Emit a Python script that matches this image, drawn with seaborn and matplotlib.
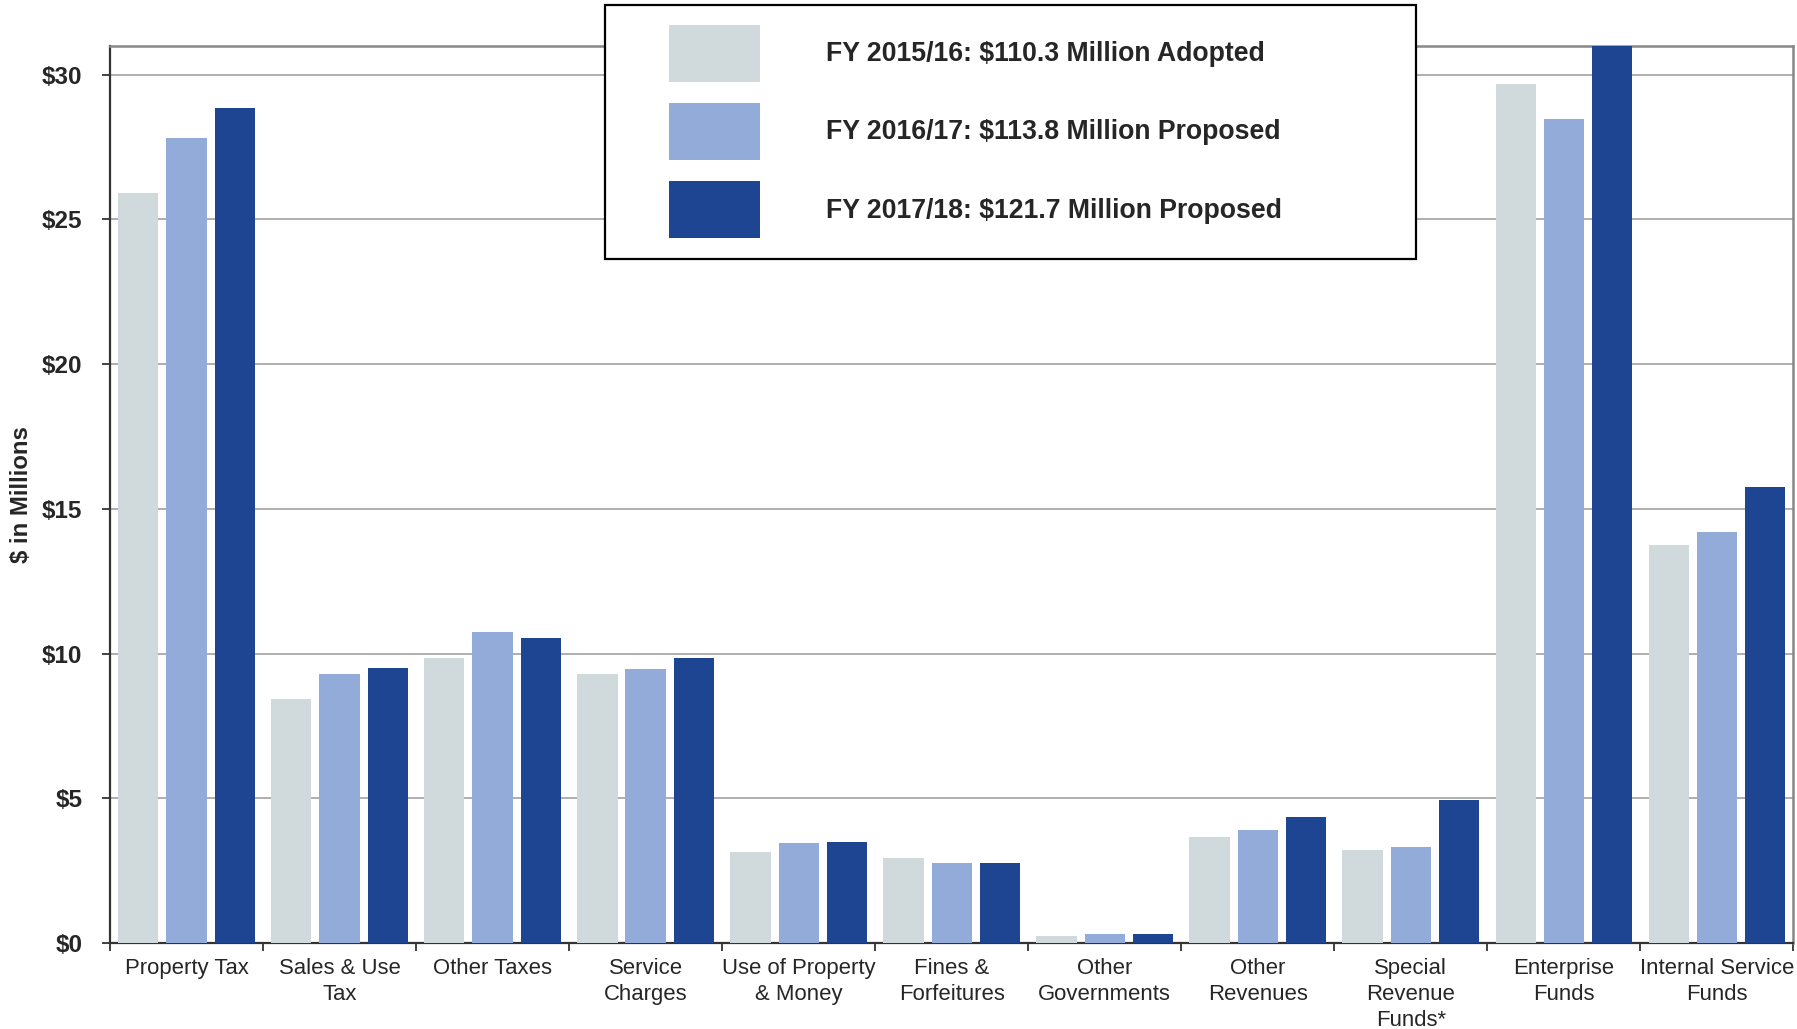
import numpy as np
import pandas as pd
import matplotlib
matplotlib.use("Agg")
import matplotlib.pyplot as plt
from matplotlib.patches import Patch, Rectangle
import seaborn as sns

categories = [
    "Property Tax", "Sales & Use\nTax", "Other Taxes", "Service\nCharges",
    "Use of Property\n& Money", "Fines &\nForfeitures", "Other\nGovernments",
    "Other\nRevenues", "Special\nRevenue\nFunds*", "Enterprise\nFunds",
    "Internal Service\nFunds",
]
years = [
    "FY 2015/16: $110.3 Million Adopted",
    "FY 2016/17: $113.8 Million Proposed",
    "FY 2017/18: $121.7 Million Proposed",
]
fy1516 = [25.93, 8.43, 9.85, 9.31, 3.15, 2.92, 0.25, 3.67, 3.21, 29.68, 13.75]
fy1617 = [27.82, 9.28, 10.74, 9.45, 3.45, 2.78, 0.31, 3.90, 3.33, 28.47, 14.21]
fy1718 = [28.84, 9.49, 10.55, 9.84, 3.49, 2.78, 0.31, 4.34, 4.95, 31.35, 15.76]
colors = ["#D0D9DB", "#92ABD8", "#1D4592"]
yticks = [0, 5, 10, 15, 20, 25, 30]

df = pd.DataFrame({
    "category": categories * 3,
    "year": np.repeat(years, len(categories)),
    "value": fy1516 + fy1617 + fy1718,
})

sns.set_style("white")
plt.rcParams["font.family"] = ["Liberation Sans", "DejaVu Sans"]

fig = plt.figure(figsize=(17.97, 10.29), dpi=100)
ax = fig.add_axes([0.0612, 0.0836, 0.9368, 0.8719])

sns.barplot(data=df, x="category", y="value", hue="year", order=categories,
            hue_order=years, palette=dict(zip(years, colors)), saturation=1,
            width=0.945, gap=0.165, linewidth=0, legend=False, ax=ax, zorder=3)

ax.set_ylim(0, 31)
ax.set_xlim(-0.5, len(categories) - 0.5)
ax.set_yticks(yticks)
ax.set_yticklabels([f"${v}" for v in yticks], fontsize=17.5, fontweight="bold")
ax.grid(axis="y", color="#999999", linewidth=1.1, zorder=0)
ax.set_axisbelow(True)
ax.set_xlabel("")
ax.set_ylabel("$ in Millions", fontsize=17.2, fontweight="bold")
ax.yaxis.set_label_coords(-0.0455, 0.5)

ax.set_xticks(range(len(categories)))
ax.set_xticklabels(categories, fontsize=15.9, linespacing=1.32)
ax.set_xticks(np.arange(-0.5, len(categories)), minor=True)
ax.tick_params(axis="x", which="major", length=0, pad=11)
ax.tick_params(axis="x", which="minor", length=6, width=1.3, color="#333333",
               direction="out", bottom=True)
ax.tick_params(axis="y", length=6, width=1.3, color="#333333", direction="out",
               left=True, pad=14)

for side in ["left", "bottom"]:
    ax.spines[side].set_color("#333333")
    ax.spines[side].set_linewidth(1.6)
for side in ["top", "right"]:
    ax.spines[side].set_color("#888888")
    ax.spines[side].set_linewidth(1.8)

# legend box drawn over the plot area
frame = Rectangle((0.3367, 0.7483), 0.4513, 0.2472, transform=fig.transFigure,
                  facecolor="white", edgecolor="black", linewidth=1.6, zorder=4)
fig.patches.append(frame)

handles = [Patch(facecolor=c, edgecolor="none") for c in colors]
leg = fig.legend(handles, years, loc="upper left",
                 bbox_to_anchor=(0.3723, 0.9757), frameon=False,
                 prop={"size": 19.2, "weight": "bold"}, handlelength=3.4,
                 handleheight=2.9, handletextpad=2.5, labelspacing=0.8,
                 borderpad=0, borderaxespad=0)
leg.set_zorder(6)

fig.savefig("out.png", dpi=100)
